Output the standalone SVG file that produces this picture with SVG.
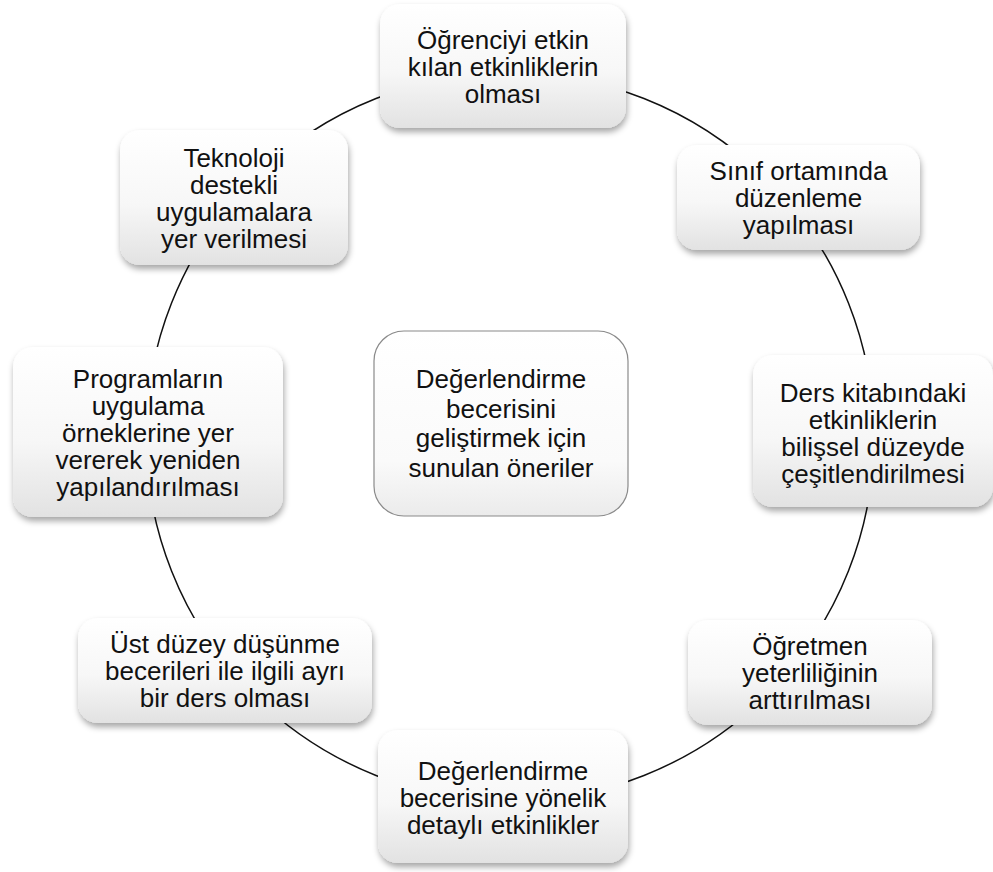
<svg xmlns="http://www.w3.org/2000/svg" width="993" height="872" viewBox="0 0 993 872">
  <defs>
    <linearGradient id="g" x1="0" y1="0" x2="0" y2="1">
      <stop offset="0" stop-color="#ffffff"/>
      <stop offset="0.55" stop-color="#f7f7f7"/>
      <stop offset="1" stop-color="#e2e2e2"/>
    </linearGradient>
    <linearGradient id="gc" x1="0" y1="0" x2="0" y2="1">
      <stop offset="0" stop-color="#ffffff"/>
      <stop offset="0.7" stop-color="#fafafa"/>
      <stop offset="1" stop-color="#ebebeb"/>
    </linearGradient>
    <filter id="sh" x="-10%" y="-10%" width="125%" height="130%">
      <feDropShadow dx="1" dy="4" stdDeviation="3" flood-color="#000" flood-opacity="0.35"/>
    </filter>
  </defs>
  <style>
    .n { fill: url(#g); filter: url(#sh); }
    .c { fill: url(#gc); stroke: #8a8a8a; stroke-width: 1.2; }
    text { font-family: "Liberation Sans", Arial, sans-serif; font-size: 26px; fill: #111; text-anchor: middle; }
    .edge { fill: none; stroke: #111; stroke-width: 1.5; }
  </style>
  <rect width="993" height="872" fill="#ffffff"/>
  <g id="connectors">
    <circle class="edge" cx="510" cy="437" r="364"/>
  </g>
  <g id="node-top">
    <rect class="n" x="380" y="4" width="246" height="124" rx="20"/>
    <text x="503" y="49">Öğrenciyi etkin</text>
    <text x="503" y="76">kılan etkinliklerin</text>
    <text x="503" y="103">olması</text>
  </g>
  <g id="node-sinif">
    <rect class="n" x="677" y="145" width="243" height="105" rx="20"/>
    <text x="798.5" y="180">Sınıf ortamında</text>
    <text x="798.5" y="207">düzenleme</text>
    <text x="798.5" y="234">yapılması</text>
  </g>
  <g id="node-ders">
    <rect class="n" x="753" y="355" width="240" height="152" rx="20"/>
    <text x="873" y="402">Ders kitabındaki</text>
    <text x="873" y="429">etkinliklerin</text>
    <text x="873" y="456">bilişsel düzeyde</text>
    <text x="873" y="483">çeşitlendirilmesi</text>
  </g>
  <g id="node-ogretmen">
    <rect class="n" x="688" y="620" width="244" height="105" rx="20"/>
    <text x="810" y="655">Öğretmen</text>
    <text x="810" y="682">yeterliliğinin</text>
    <text x="810" y="709">arttırılması</text>
  </g>
  <g id="node-bottom">
    <rect class="n" x="378" y="730" width="250" height="133" rx="20"/>
    <text x="503" y="780">Değerlendirme</text>
    <text x="503" y="807">becerisine yönelik</text>
    <text x="503" y="834">detaylı etkinlikler</text>
  </g>
  <g id="node-ust">
    <rect class="n" x="78" y="618" width="294" height="105" rx="20"/>
    <text x="225" y="653">Üst düzey düşünme</text>
    <text x="225" y="680">becerileri ile ilgili ayrı</text>
    <text x="225" y="707">bir ders olması</text>
  </g>
  <g id="node-program">
    <rect class="n" x="13" y="347" width="270" height="170" rx="20"/>
    <text x="148" y="388">Programların</text>
    <text x="148" y="415">uygulama</text>
    <text x="148" y="442">örneklerine yer</text>
    <text x="148" y="469">vererek yeniden</text>
    <text x="148" y="496">yapılandırılması</text>
  </g>
  <g id="node-teknoloji">
    <rect class="n" x="120" y="130" width="228" height="135" rx="20"/>
    <text x="234" y="167">Teknoloji</text>
    <text x="234" y="194">destekli</text>
    <text x="234" y="221">uygulamalara</text>
    <text x="234" y="248">yer verilmesi</text>
  </g>
  <g id="node-center">
    <rect class="c" x="374" y="331" width="254" height="185" rx="30"/>
    <text x="501" y="388">Değerlendirme</text>
    <text x="501" y="417.5">becerisini</text>
    <text x="501" y="447">geliştirmek için</text>
    <text x="501" y="476.5">sunulan öneriler</text>
  </g>
</svg>
